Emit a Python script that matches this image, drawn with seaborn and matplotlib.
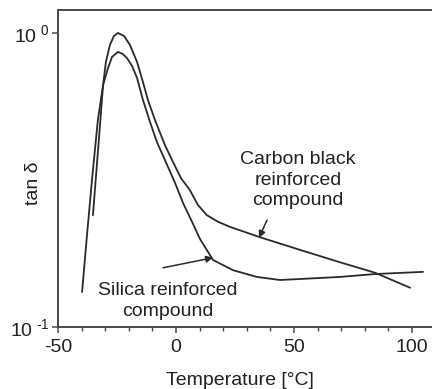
import numpy as np
import pandas as pd
import matplotlib
matplotlib.use("Agg")
import matplotlib.pyplot as plt
import seaborn as sns

# ---- data ----
cb_temp = [-35.2, -32.2, -30.9, -29.7, -28.0, -26.3, -24.6, -22.0, -19.5, -16.5,
           -14.0, -11.9, -8.9, -4.7, -1.7, 2.1, 5.9, 9.3, 13.1, 17.8, 22.9,
           35.6, 52.5, 69.5, 84.3, 99.2]
cb_tan = [0.240, 0.486, 0.665, 0.797, 0.910, 0.977, 1.000, 0.977, 0.910, 0.797,
          0.681, 0.592, 0.506, 0.416, 0.370, 0.321, 0.292, 0.260, 0.240, 0.228, 0.219,
          0.202, 0.183, 0.166, 0.153, 0.136]

si_temp = [-39.8, -37.7, -35.6, -33.1, -30.9, -28.8, -27.1, -24.6, -22.5, -20.8,
           -18.6, -16.5, -14.0, -11.0, -8.1, -4.7, -0.4, 3.0, 6.8, 10.2, 15.7,
           24.2, 34.3, 44.1, 52.5, 69.5, 84.3, 104.7]
si_tan = [0.1315, 0.206, 0.316, 0.506, 0.665, 0.760, 0.829, 0.862, 0.848, 0.822,
          0.772, 0.703, 0.592, 0.498, 0.426, 0.370, 0.309, 0.264, 0.228, 0.199, 0.169,
          0.156, 0.148, 0.1445, 0.1456, 0.148, 0.1514, 0.154]

x_ticks = [-50, 0, 50, 100]
y_ticks = [0.1, 1.0]
y_ticklabels = [r"$\mathregular{10^{\ \text{-}1}}$", r"$\mathregular{10^{\ 0}}$"]
cb_label = "Carbon black\nreinforced\ncompound"
si_label = "Silica reinforced\ncompound"
x_title = "Temperature [°C]"
y_title = "tan δ"

# ---- style ----
sns.set_style("ticks")
plt.rcParams["font.family"] = ["Liberation Sans", "DejaVu Sans"]
plt.rcParams["mathtext.fontset"] = "custom"
plt.rcParams["mathtext.rm"] = "Liberation Sans"

txt = "#222222"
line_c = "#2a2a2a"
spine_c = "#4a4a4a"

fig = plt.figure(figsize=(4.32, 3.89), dpi=100)
ax = fig.add_axes([58 / 432, 62 / 389, 374 / 432, 317 / 389])

df_cb = pd.DataFrame({"T": cb_temp, "tan": cb_tan})
df_si = pd.DataFrame({"T": si_temp, "tan": si_tan})
sns.lineplot(data=df_cb, x="T", y="tan", sort=False, estimator=None, ax=ax,
             color=line_c, lw=1.3)
sns.lineplot(data=df_si, x="T", y="tan", sort=False, estimator=None, ax=ax,
             color=line_c, lw=1.3)

ax.set_yscale("log")
ax.set_xlim(-50, 108.5)
ax.set_ylim(0.1, 1.197)

ax.set_xticks(x_ticks)
ax.set_xticklabels([str(v) for v in x_ticks])
ax.set_xticks(np.arange(-50, 101, 10), minor=True)
ax.set_yticks(y_ticks)
ax.set_yticklabels(y_ticklabels)
ax.yaxis.set_minor_locator(matplotlib.ticker.NullLocator())

ax.tick_params(axis="x", which="major", length=4, width=1.1, color=spine_c,
               labelsize=14, labelcolor=txt, pad=5, direction="out")
ax.tick_params(axis="x", which="minor", length=3, width=1.0, color=spine_c,
               direction="out")
ax.tick_params(axis="y", which="major", length=4.5, width=1.1, color=spine_c,
               labelsize=14, labelcolor=txt, pad=1.5, direction="out")

for s in ["left", "top", "bottom"]:
    ax.spines[s].set_color(spine_c)
    ax.spines[s].set_linewidth(1.4)
ax.spines["right"].set_visible(False)

ax.set_xlabel(x_title, fontsize=14, color=txt)
ax.set_ylabel(y_title, fontsize=14, color=txt)
ax.xaxis.set_label_coords(0.487, -0.142)
ax.yaxis.set_label_coords(-0.043, 0.454)

ax.text(51.7, 0.316, cb_label, ha="center", va="center", fontsize=14,
        color=txt, linespacing=1.3)
ax.text(-3.6, 0.1226, si_label, ha="center", va="center", fontsize=14,
        color=txt, linespacing=1.3)

ax.annotate("", xy=(35.2, 0.201), xytext=(38.6, 0.231),
            arrowprops=dict(arrowstyle="-|>", color=line_c, lw=1.1,
                            mutation_scale=10, shrinkA=0, shrinkB=0))
ax.annotate("", xy=(15.7, 0.172), xytext=(-5.5, 0.159),
            arrowprops=dict(arrowstyle="-|>", color=line_c, lw=1.1,
                            mutation_scale=10, shrinkA=0, shrinkB=0))

fig.savefig("out.png", dpi=100)
